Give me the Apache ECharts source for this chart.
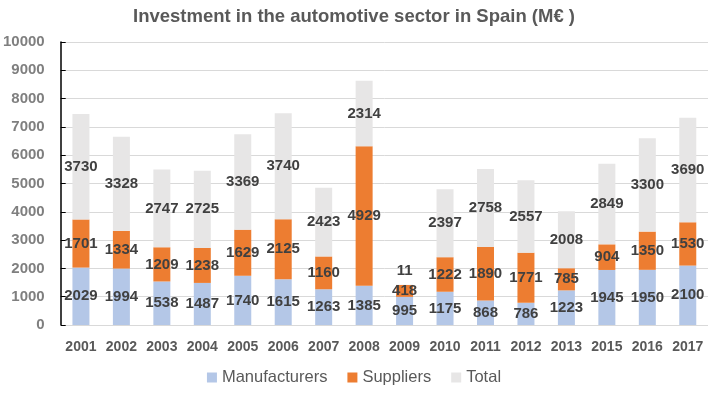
<!DOCTYPE html>
<html>
<head>
<meta charset="utf-8">
<script src="https://cdn.jsdelivr.net/npm/echarts@6/dist/echarts.min.js"></script>
<style>
  html, body { margin: 0; padding: 0; background: #fff; }
  #chart { width: 708px; height: 393px; }
</style>
</head>
<body>
<div id="chart"></div>
<script>
// years on the x axis (no 2014 in the source)
var years = ["2001", "2002", "2003", "2004", "2005", "2006", "2007", "2008",
  "2009", "2010", "2011", "2012", "2013", "2015", "2016", "2017"];
var manufacturers = [2029, 1994, 1538, 1487, 1740, 1615, 1263, 1385,
  995, 1175, 868, 786, 1223, 1945, 1950, 2100];
var suppliers = [1701, 1334, 1209, 1238, 1629, 2125, 1160, 4929,
  418, 1222, 1890, 1771, 785, 904, 1350, 1530];
var totals = [3730, 3328, 2747, 2725, 3369, 3740, 2423, 2314,
  11, 2397, 2758, 2557, 2008, 2849, 3300, 3690];

var font = '"Liberation Sans", Arial, sans-serif';
var colorArr = ["#b4c7e7", "#ed7d31", "#e7e6e6"];

var labelStyle = {
  show: true,
  position: "inside",
  color: "#404040",
  fontWeight: "bold",
  fontSize: 15,
  fontFamily: font
};

function makeSeries(name, data, idx) {
  // tiny segments get their label above the bar so it stays readable
  var items = data.map(function (v) {
    if (v < 100) return { value: v, label: { position: "top", distance: 6 } };
    return v;
  });
  return {
    name: name,
    type: "bar",
    stack: "all",
    barWidth: 17,
    data: items,
    itemStyle: { color: colorArr[idx] },
    label: labelStyle
  };
}

var myChart = echarts.init(document.getElementById("chart"));
myChart.setOption({
  animation: false,
  textStyle: { fontFamily: font },
  color: colorArr,
  title: {
    text: "Investment in the automotive sector in Spain (M€ )",
    left: "center",
    top: 2,
    textStyle: { color: "#595959", fontSize: 18.5, fontWeight: "bold", fontFamily: font }
  },
  legend: {
    bottom: 2,
    left: "center",
    itemWidth: 10,
    itemHeight: 10,
    itemGap: 20,
    icon: "rect",
    textStyle: { color: "#595959", fontSize: 16.5, fontFamily: font },
    data: ["Manufacturers", "Suppliers", "Total"]
  },
  grid: { left: 59, right: 0, top: 42, bottom: 68 },
  xAxis: {
    type: "category",
    data: years,
    axisLine: { lineStyle: { color: "#d9d9d9" } },
    axisTick: { show: false },
    axisLabel: { interval: 0, color: "#595959", fontWeight: "bold", fontSize: 14, margin: 15, fontFamily: font }
  },
  yAxis: {
    type: "value",
    min: 0,
    max: 10000,
    interval: 1000,
    axisLine: { show: true, lineStyle: { color: "#000", width: 1.5 } },
    axisTick: { show: true, inside: true, length: 5, lineStyle: { color: "#000" } },
    splitLine: { lineStyle: { color: "#d9d9d9" } },
    axisLabel: {
      color: "#7f7f7f", fontWeight: "bold", fontSize: 15, margin: 16, fontFamily: font,
      formatter: function (v) { return String(v); }
    }
  },
  series: [
    makeSeries("Manufacturers", manufacturers, 0),
    makeSeries("Suppliers", suppliers, 1),
    makeSeries("Total", totals, 2)
  ]
});
</script>
</body>
</html>
